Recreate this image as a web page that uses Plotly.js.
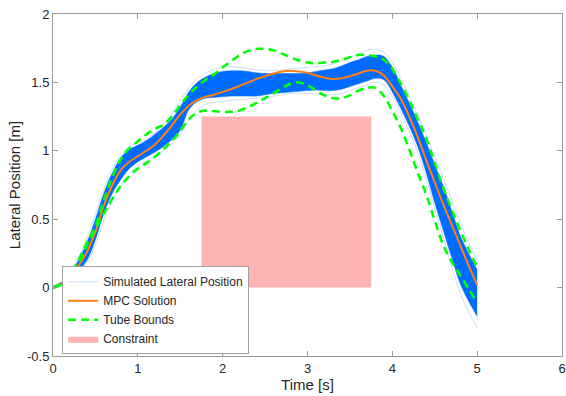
<!DOCTYPE html>
<html>
<head>
<meta charset="utf-8">
<script src="https://cdn.plot.ly/plotly-3.0.1.min.js"></script>
<style>html,body{margin:0;padding:0;background:#fff;}#chart{width:566px;height:396px;}</style>
</head>
<body>
<div id="chart"></div>
<script>
// time grid (s)
const time = [0.0,0.1,0.2,0.3,0.4,0.5,0.6,0.7,0.8,0.9,1.0,1.1,1.2,1.3,1.4,1.5,1.6,1.7,1.8,1.9,2.0,2.1,2.2,2.3,2.4,2.5,2.6,2.7,2.8,2.9,3.0,3.1,3.2,3.3,3.4,3.5,3.6,3.7,3.8,3.9,4.0,4.1,4.2,4.3,4.4,4.5,4.6,4.7,4.8,4.9,5.0];

// MPC solution
const mpcSolution = [0.00,0.03,0.08,0.16,0.26,0.41,0.60,0.75,0.86,0.92,0.96,1.00,1.045,1.11,1.185,1.265,1.33,1.37,1.395,1.41,1.43,1.45,1.475,1.50,1.525,1.545,1.565,1.58,1.585,1.58,1.57,1.55,1.535,1.525,1.53,1.545,1.565,1.585,1.585,1.55,1.47,1.38,1.25,1.10,0.93,0.77,0.61,0.46,0.31,0.16,0.02];

// Tube bounds
const tubeUpper = [0.00,0.03,0.09,0.20,0.33,0.45,0.64,0.81,0.94,1.02,1.07,1.12,1.16,1.19,1.25,1.335,1.41,1.47,1.52,1.56,1.61,1.655,1.70,1.73,1.745,1.745,1.735,1.71,1.685,1.66,1.645,1.64,1.645,1.65,1.665,1.685,1.70,1.70,1.69,1.665,1.60,1.49,1.37,1.23,1.09,0.91,0.73,0.57,0.42,0.28,0.15];
const tubeLower = [0.00,0.02,0.07,0.17,0.31,0.43,0.54,0.65,0.745,0.815,0.87,0.91,0.955,1.01,1.07,1.145,1.23,1.28,1.295,1.29,1.285,1.285,1.295,1.32,1.35,1.385,1.42,1.46,1.49,1.50,1.48,1.44,1.405,1.385,1.385,1.405,1.44,1.46,1.46,1.40,1.29,1.165,1.01,0.84,0.68,0.49,0.31,0.19,0.09,-0.01,-0.11];

// Simulated lateral position: dense core envelope and outer trajectories
const simCoreUpper = [0.01,0.04,0.10,0.20,0.33,0.50,0.69,0.84,0.95,1.01,1.04,1.075,1.12,1.17,1.23,1.32,1.43,1.50,1.54,1.565,1.58,1.585,1.585,1.58,1.57,1.565,1.565,1.565,1.565,1.565,1.57,1.58,1.59,1.60,1.62,1.645,1.665,1.69,1.70,1.69,1.61,1.48,1.35,1.21,1.06,0.90,0.74,0.56,0.38,0.25,0.13];
const simCoreLower = [-0.01,0.02,0.06,0.12,0.20,0.35,0.545,0.69,0.79,0.87,0.92,0.955,0.99,1.03,1.08,1.15,1.30,1.36,1.385,1.39,1.395,1.40,1.40,1.40,1.40,1.41,1.42,1.425,1.43,1.435,1.44,1.445,1.44,1.44,1.45,1.47,1.49,1.51,1.53,1.52,1.43,1.31,1.18,1.03,0.84,0.62,0.42,0.22,0.03,-0.10,-0.21];
const simHigh = [0.00,0.04,0.11,0.22,0.36,0.54,0.72,0.87,0.97,1.03,1.06,1.09,1.13,1.19,1.27,1.37,1.46,1.53,1.57,1.595,1.61,1.615,1.61,1.60,1.59,1.585,1.585,1.59,1.60,1.605,1.61,1.615,1.62,1.635,1.655,1.68,1.71,1.735,1.74,1.72,1.65,1.53,1.40,1.26,1.11,0.96,0.80,0.64,0.48,0.33,0.20];
const simLow = [0.00,0.01,0.05,0.10,0.18,0.31,0.49,0.64,0.75,0.83,0.89,0.93,0.965,1.00,1.05,1.12,1.22,1.30,1.34,1.355,1.36,1.37,1.375,1.38,1.385,1.39,1.40,1.41,1.42,1.42,1.42,1.415,1.41,1.41,1.42,1.44,1.46,1.48,1.50,1.48,1.40,1.28,1.14,0.99,0.80,0.58,0.37,0.15,-0.04,-0.18,-0.29];

// Constraint region
const constraintT = [1.75, 3.75];
const constraintY = [0, 1.25];

// Ticks
const xTicks = [0,1,2,3,4,5,6];
const yTicks = [-0.5,0,0.5,1,1.5,2];
const yTickText = ['-0.5','0','0.5','1','1.5','2'];

const blue = 'rgb(0,108,255)';
const faint = 'rgba(0,108,255,0.22)';

const rectX = [constraintT[0], constraintT[1], constraintT[1], constraintT[0], constraintT[0]];
const rectY = [constraintY[0], constraintY[0], constraintY[1], constraintY[1], constraintY[0]];

const traces = [
  {x: rectX, y: rectY, type:'scatter', mode:'lines', fill:'toself', fillcolor:'rgb(255,179,179)',
   line:{width:0, color:'rgb(255,179,179)'}, name:'Constraint', legendrank:4, hoverinfo:'skip'},
  {x: time, y: simLow, type:'scatter', mode:'lines', line:{color:faint, width:1, shape:'spline'}, showlegend:false},
  {x: time, y: simCoreLower, type:'scatter', mode:'lines', line:{color:'rgba(0,108,255,0.5)', width:1, shape:'spline'}, showlegend:false},
  {x: time, y: simCoreUpper, type:'scatter', mode:'lines', fill:'tonexty', fillcolor:blue,
   line:{color:'rgba(0,108,255,0.5)', width:1, shape:'spline'}, showlegend:false},
  {x: time, y: simHigh, type:'scatter', mode:'lines', line:{color:faint, width:1, shape:'spline'},
   name:'Simulated Lateral Position', legendrank:1},
  {x: time, y: mpcSolution, type:'scatter', mode:'lines', line:{color:'rgb(255,128,16)', width:2, shape:'spline'},
   name:'MPC Solution', legendrank:2},
  {x: time, y: tubeUpper, type:'scatter', mode:'lines', line:{color:'rgb(0,255,0)', width:2.5, dash:'8px,5px', shape:'spline'},
   name:'Tube Bounds', legendrank:3, legendgroup:'tube'},
  {x: time, y: tubeLower, type:'scatter', mode:'lines', line:{color:'rgb(0,255,0)', width:2.5, dash:'8px,5px', shape:'spline'},
   name:'Tube Bounds', showlegend:false, legendgroup:'tube'}
];

const axisCommon = {
  showgrid:false, zeroline:false, showline:true, linecolor:'#9a9a9a', linewidth:1,
  mirror:'ticks', ticks:'inside', ticklen:5, tickcolor:'#9a9a9a',
  tickfont:{family:'Liberation Sans, Arial, sans-serif', size:13, color:'#262626'}
};

const layout = {
  width:566, height:396,
  margin:{l:53, r:4, t:14, b:40},
  paper_bgcolor:'#fff', plot_bgcolor:'#fff',
  showlegend:true,
  xaxis: Object.assign({}, axisCommon, {range:[0,6], tickvals:xTicks, ticktext:xTicks.map(String),
    title:{text:'Time [s]', font:{family:'Liberation Sans, Arial, sans-serif', size:15, color:'#262626'}, standoff:4}}),
  yaxis: Object.assign({}, axisCommon, {range:[-0.5,2], tickvals:yTicks, ticktext:yTickText,
    title:{text:'Lateral Position [m]', font:{family:'Liberation Sans, Arial, sans-serif', size:15, color:'#262626'}, standoff:2}}),
  legend:{x:0.018, y:0.005, xanchor:'left', yanchor:'bottom', bgcolor:'#fff', bordercolor:'#a0a0a0', borderwidth:1,
    font:{family:'Liberation Sans, Arial, sans-serif', size:12, color:'#262626'}, tracegroupgap:0, itemwidth:30},
  font:{family:'Liberation Sans, Arial, sans-serif'}
};

Plotly.newPlot('chart', traces, layout, {displayModeBar:false, staticPlot:true});
</script>
</body>
</html>
